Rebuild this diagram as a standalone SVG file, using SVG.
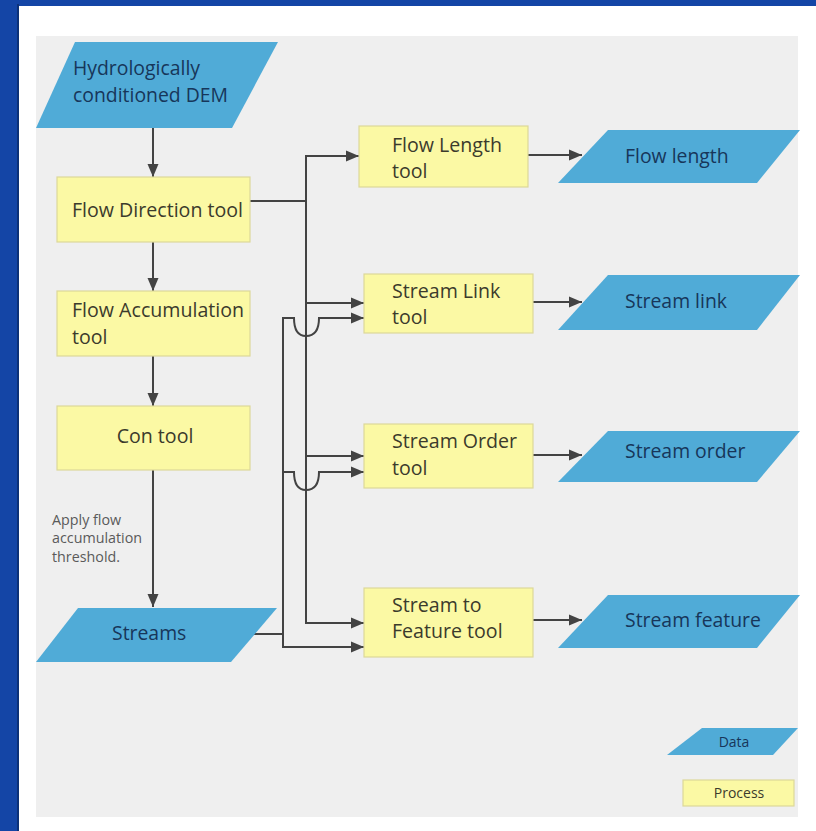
<svg xmlns="http://www.w3.org/2000/svg" width="816" height="831" viewBox="0 0 816 831">
<style>
.proc{fill:#fbf9a4;stroke:#dcd89a;stroke-width:1.2}
.data{fill:#50abd7;stroke:none}
.pt{font-family:"Open Sans","Noto Sans",sans-serif;font-size:19.6px;fill:#3b3b2c}
.dt{font-family:"Open Sans","Noto Sans",sans-serif;font-size:19.4px;fill:#17365a}
.lbl{font-family:"Open Sans","Noto Sans",sans-serif;font-size:14.3px;fill:#5a5a5a}
.lg{font-family:"Open Sans","Noto Sans",sans-serif;font-size:14px}
.c{fill:none;stroke:#434343;stroke-width:2}
</style>
<defs>
<marker id="ah" markerUnits="userSpaceOnUse" markerWidth="14" markerHeight="12" refX="13" refY="6" orient="auto">
<path d="M0,0.5 L13,6 L0,11.5 Z" fill="#434343"/>
</marker>
</defs>
<rect x="0" y="0" width="816" height="831" fill="#1445a6"/>
<rect x="17" y="4" width="2" height="827" fill="#0c3178"/>
<rect x="19" y="6" width="797" height="825" fill="#ffffff"/>
<rect x="36" y="36" width="762" height="781" fill="#efefef"/>

<g id="connectors">
<path class="c" d="M153,128 V177" marker-end="url(#ah)"/>
<path class="c" d="M153,242 V291" marker-end="url(#ah)"/>
<path class="c" d="M153,356 V406" marker-end="url(#ah)"/>
<path class="c" d="M153,470 V607" marker-end="url(#ah)"/>
<path class="c" d="M250,201 H306 V156 H359" marker-end="url(#ah)"/>
<path class="c" d="M306,201 V623 H364" marker-end="url(#ah)"/>
<path class="c" d="M306,303 H364" marker-end="url(#ah)"/>
<path class="c" d="M306,456 H364" marker-end="url(#ah)"/>
<path class="c" d="M252,634 H283 V647 H364" marker-end="url(#ah)"/>
<path class="c" d="M283,634 V318 H294 Q294,336 306,336 Q319,336 319,318 H364" marker-end="url(#ah)"/>
<path class="c" d="M283,472 H294 Q294,490 306,490 Q319,490 319,472 H364" marker-end="url(#ah)"/>
<path class="c" d="M528,155 H582" marker-end="url(#ah)"/>
<path class="c" d="M533,302 H582" marker-end="url(#ah)"/>
<path class="c" d="M533,455 H582" marker-end="url(#ah)"/>
<path class="c" d="M533,620 H582" marker-end="url(#ah)"/>
</g>

<g id="dem">
<polygon class="data" points="75,42 278,42 232,128 36,128"/>
<text class="dt" x="73" y="75">Hydrologically</text>
<text class="dt" x="73" y="102">conditioned DEM</text>
</g>
<g id="flowdir">
<rect class="proc" x="57" y="177" width="193" height="65"/>
<text class="pt" x="72" y="217">Flow Direction tool</text>
</g>
<g id="flowacc">
<rect class="proc" x="57" y="291" width="193" height="65"/>
<text class="pt" x="72" y="317">Flow Accumulation</text>
<text class="pt" x="72" y="344">tool</text>
</g>
<g id="con">
<rect class="proc" x="57" y="406" width="193" height="64"/>
<text class="pt" x="155" y="443" text-anchor="middle">Con tool</text>
</g>
<g id="threshold-label">
<text class="lbl" x="52" y="525">Apply flow</text>
<text class="lbl" x="52" y="543">accumulation</text>
<text class="lbl" x="52" y="562">threshold.</text>
</g>
<g id="streams">
<polygon class="data" points="78,608 277,608 231,662 36,662"/>
<text class="dt" x="112" y="640">Streams</text>
</g>
<g id="flowlength-tool">
<rect class="proc" x="359" y="126" width="169" height="61"/>
<text class="pt" x="392" y="152">Flow Length</text>
<text class="pt" x="392" y="178">tool</text>
</g>
<g id="streamlink-tool">
<rect class="proc" x="364" y="274" width="169" height="59"/>
<text class="pt" x="392" y="298">Stream Link</text>
<text class="pt" x="392" y="324">tool</text>
</g>
<g id="streamorder-tool">
<rect class="proc" x="364" y="424" width="169" height="64"/>
<text class="pt" x="392" y="448">Stream Order</text>
<text class="pt" x="392" y="475">tool</text>
</g>
<g id="streamfeature-tool">
<rect class="proc" x="364" y="588" width="169" height="69"/>
<text class="pt" x="392" y="612">Stream to</text>
<text class="pt" x="392" y="638">Feature tool</text>
</g>
<g id="flowlength">
<polygon class="data" points="608,130 800,130 757,183 558,183"/>
<text class="dt" x="625" y="163">Flow length</text>
</g>
<g id="streamlink">
<polygon class="data" points="608,275 800,275 757,330 558,330"/>
<text class="dt" x="625" y="308">Stream link</text>
</g>
<g id="streamorder">
<polygon class="data" points="608,431 800,431 757,482 558,482"/>
<text class="dt" x="625" y="458">Stream order</text>
</g>
<g id="streamfeature">
<polygon class="data" points="608,595 800,595 757,648 558,648"/>
<text class="dt" x="625" y="627">Stream feature</text>
</g>
<g id="legend-data">
<polygon class="data" points="702,728 798,728 773,755 667,755"/>
<text class="lg" x="734" y="747" text-anchor="middle" fill="#17365a">Data</text>
</g>
<g id="legend-process">
<rect class="proc" x="683" y="780" width="111" height="26"/>
<text class="lg" x="739" y="798" text-anchor="middle" fill="#3b3b2c">Process</text>
</g>
</svg>
